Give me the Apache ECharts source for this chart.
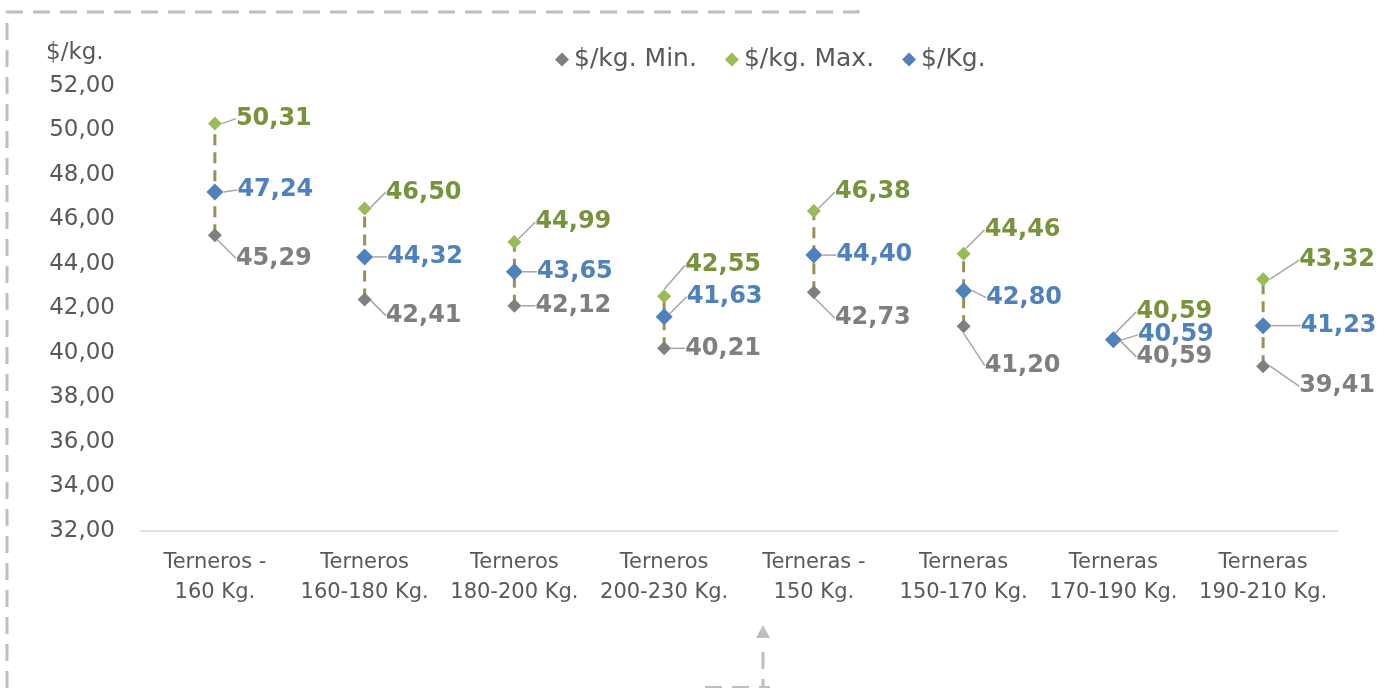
<!DOCTYPE html>
<html lang="es">
<head>
<meta charset="utf-8">
<script src="https://cdn.jsdelivr.net/npm/echarts@6/dist/echarts.min.js"></script>
<style>
  html, body { margin: 0; padding: 0; background: #ffffff; }
  #chart { width: 1387px; height: 688px; }
</style>
</head>
<body>
<div id="chart"></div>
<script>
// datos
var categories = [
    'Terneros -\n160 Kg.', 'Terneros\n160-180 Kg.', 'Terneros\n180-200 Kg.', 'Terneros\n200-230 Kg.',
    'Terneras -\n150 Kg.', 'Terneras\n150-170 Kg.', 'Terneras\n170-190 Kg.', 'Terneras\n190-210 Kg.'
];
var minVals = [45.29, 42.41, 42.12, 40.21, 42.73, 41.20, 40.59, 39.41];
var maxVals = [50.31, 46.50, 44.99, 42.55, 46.38, 44.46, 40.59, 43.32];
var avgVals = [47.24, 44.32, 43.65, 41.63, 44.40, 42.80, 40.59, 41.23];
var yTicks = [32, 52, 2]; // min, max, intervalo

// desplazamiento de las etiquetas (solo posicion)
var labelDx = [0, 0, 0, 0, 0, 0, 2, 15];
var dyMax = [-5, -16, -20, -31, -19, -24, -28, -19];
var dyAvg = [-2, 0, 0, -20, 0, 7, -5, 0];
var dyMin = [23, 16, 0, 0, 26, 39, 17, 20];

var FONT = 'DejaVu Sans';
function fmt(v) { return v.toFixed(2).replace('.', ','); }

var chart = echarts.init(document.getElementById('chart'), null, { renderer: 'canvas' });

function pointSeries(name, vals, color, labelColor, size, dys, z) {
    return {
        name: name,
        type: 'scatter',
        symbol: 'diamond',
        symbolSize: size,
        z: z,
        itemStyle: { color: color, opacity: 1 },
        data: vals,
        label: {
            show: true,
            position: 'right',
            distance: 14,
            formatter: function (p) { return fmt(p.value); },
            color: labelColor,
            fontFamily: FONT,
            fontWeight: 'bold',
            fontSize: 24
        },
        labelLine: {
            show: true,
            lineStyle: { color: '#a6a6a6', width: 1.5, opacity: 1 }
        },
        labelLayout: function (p) {
            return { dx: labelDx[p.dataIndex], dy: dys[p.dataIndex] };
        },
        emphasis: { disabled: true }
    };
}

var option = {
    backgroundColor: '#ffffff',
    animation: false,
    title: {
        text: '$/kg.',
        left: 41,
        top: 37,
        textStyle: { fontFamily: FONT, fontSize: 23, fontWeight: 'normal', color: '#595959' }
    },
    legend: {
        left: 550,
        top: 42,
        itemWidth: 14,
        itemHeight: 14,
        itemGap: 28,
        data: [
            { name: '$/kg. Min.', icon: 'diamond', itemStyle: { opacity: 1 } },
            { name: '$/kg. Max.', icon: 'diamond', itemStyle: { opacity: 1 } },
            { name: '$/Kg.', icon: 'diamond', itemStyle: { opacity: 1 } }
        ],
        textStyle: { fontFamily: FONT, fontSize: 25, color: '#595959' }
    },
    grid: { left: 140, right: 49, top: 86, bottom: 157 },
    xAxis: {
        type: 'category',
        data: categories,
        axisLine: { lineStyle: { color: '#d9d9d9', width: 1.5 } },
        axisTick: { show: false },
        axisLabel: {
            interval: 0,
            margin: 17,
            fontFamily: FONT,
            fontSize: 21,
            lineHeight: 30,
            color: '#595959'
        }
    },
    yAxis: {
        type: 'value',
        min: yTicks[0],
        max: yTicks[1],
        interval: yTicks[2],
        axisLine: { show: false },
        axisTick: { show: false },
        splitLine: { show: false },
        axisLabel: {
            margin: 25,
            fontFamily: FONT,
            fontSize: 23,
            color: '#595959',
            formatter: function (v) { return fmt(v); }
        }
    },
    series: [
        {
            type: 'custom',
            z: 1,
            silent: true,
            data: categories.map(function (c, i) { return [i, minVals[i], maxVals[i]]; }),
            encode: { x: 0, y: [1, 2] },
            renderItem: function (params, api) {
                var a = api.coord([api.value(0), api.value(1)]);
                var b = api.coord([api.value(0), api.value(2)]);
                return {
                    type: 'line',
                    shape: { x1: a[0], y1: a[1], x2: b[0], y2: b[1] },
                    style: { stroke: '#9c8f55', lineWidth: 3, lineDash: [11, 7] }
                };
            }
        },
        pointSeries('$/kg. Min.', minVals, '#7f7f7f', '#7f7f7f', 14, dyMin, 3),
        pointSeries('$/kg. Max.', maxVals, '#9bbb59', '#77933c', 14, dyMax, 3),
        pointSeries('$/Kg.', avgVals, '#4f81bd', '#4f81bd', 17, dyAvg, 4)
    ],
    graphic: [
        // marco discontinuo decorativo
        {
            type: 'polyline',
            shape: { points: [[7, 688], [7, 12], [858, 12], [858, 0]] },
            style: { stroke: '#bfbfbf', lineWidth: 3, lineDash: [17, 10], fill: null },
            silent: true
        },
        {
            type: 'polygon',
            shape: { points: [[763, 625], [756, 638], [770, 638]] },
            style: { fill: '#bfbfbf' },
            silent: true
        },
        {
            type: 'line',
            shape: { x1: 763, y1: 652, x2: 763, y2: 688 },
            style: { stroke: '#bfbfbf', lineWidth: 3, lineDash: [17, 10] },
            silent: true
        },
        {
            type: 'line',
            shape: { x1: 705, y1: 687, x2: 770, y2: 687 },
            style: { stroke: '#bfbfbf', lineWidth: 2, lineDash: [17, 10] },
            silent: true
        }
    ]
};

chart.setOption(option);
</script>
</body>
</html>
